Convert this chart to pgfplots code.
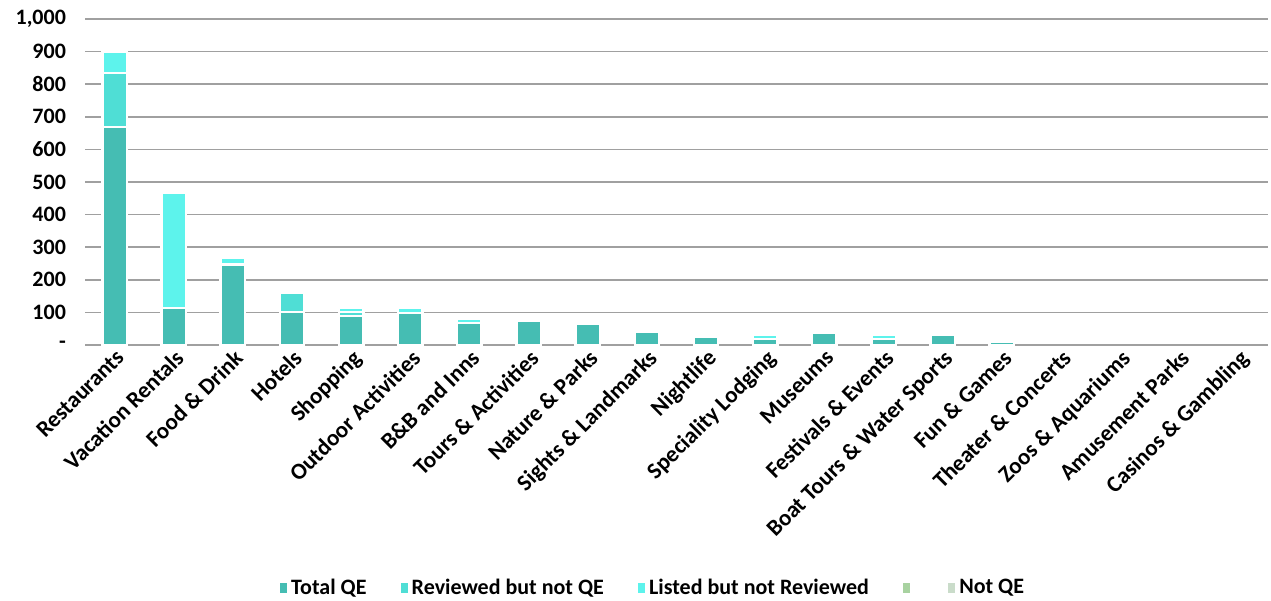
\documentclass[border=0pt]{standalone}
\usepackage{fontspec}
\setmainfont{Carlito}
\usepackage{pgfplots}
\pgfplotsset{compat=1.18}

\definecolor{cTotal}{HTML}{45BDB3}
\definecolor{cRev}{HTML}{4FDED5}
\definecolor{cList}{HTML}{5DF3EC}
\definecolor{cGreen}{HTML}{A8D2A0}
\definecolor{cNot}{HTML}{CADCCA}
\definecolor{cGrid}{HTML}{A0A0A0}

\newcommand{\lblfont}{\bfseries\fontsize{11}{13}\selectfont}
\newcommand{\xlblfont}{\bfseries\fontsize{11.5}{13}\selectfont}

\begin{document}
\begin{tikzpicture}
\begin{axis}[
    scale only axis,
    width=591.5pt, height=163pt,
    ybar stacked,
    bar width=12.2pt,
    xmin=-0.5, xmax=19.5,
    ymin=0, ymax=1000,
    xtick={0,...,19},
    xticklabels={Restaurants, Vacation Rentals, Food \& Drink, Hotels, Shopping,
        Outdoor Activities, B\&B and Inns, Tours \& Activities, Nature \& Parks,
        Sights \& Landmarks, Nightlife, Speciality Lodging, Museums,
        Festivals \& Events, Boat Tours \& Water Sports, Fun \& Games,
        Theater \& Concerts, Zoos \& Aquariums, Amusement Parks, Casinos \& Gambling},
    ytick={0,100,...,1000},
    yticklabels={-,100,200,300,400,500,600,700,800,900,{1,000}},
    xticklabel style={rotate=45, anchor=north east, font=\xlblfont, inner sep=1pt},
    yticklabel style={font=\lblfont, xshift=-6pt},
    major tick length=0pt,
    axis line style={draw=none},
    ymajorgrids,
    grid style={cGrid, line width=0.85pt},
    legend columns=5,
    legend style={draw=none, at={(0.481,-0.745)}, anchor=center, font=\lblfont,
        /tikz/every even column/.append style={column sep=15pt}},
    legend image code/.code={\fill[#1, draw=none] (0pt,-2.6pt) rectangle (3.6pt,2.6pt);},
    every axis plot/.append style={draw=white, line width=1.2pt},
]
\addplot[fill=cTotal] coordinates {(0,668) (1,113) (2,247) (3,101) (4,89) (5,99) (6,68) (7,73) (8,66) (9,40)
    (10,26) (11,19) (12,37) (13,19) (14,31) (15,11) (16,0) (17,0) (18,0) (19,0)};
\addplot[fill=cRev] coordinates {(0,166) (1,0) (2,0) (3,59) (4,12) (5,0) (6,0) (7,0) (8,0) (9,0)
    (10,0) (11,0) (12,0) (13,0) (14,0) (15,0) (16,0) (17,0) (18,0) (19,0)};
\addplot[fill=cList] coordinates {(0,64) (1,354) (2,19) (3,0) (4,12) (5,14) (6,13) (7,0) (8,0) (9,0)
    (10,0) (11,12) (12,0) (13,12) (14,0) (15,0) (16,0) (17,0) (18,0) (19,0)};
\addlegendentry{Total QE}
\addlegendentry{Reviewed but not QE}
\addlegendentry{Listed but not Reviewed}
\addlegendimage{fill=cGreen}
\addlegendentry{\hspace{6pt}}
\addlegendimage{fill=cNot}
\addlegendentry{Not QE}
\draw[cGrid, line width=0.85pt] (axis cs:-0.5,0) -- (axis cs:19.5,0);
\end{axis}
\pgfresetboundingbox
\path[use as bounding box] ([shift={(-42.5pt,-127.5pt)}]current axis.south west)
    rectangle ([shift={(1.5pt,9.5pt)}]current axis.north east);
\end{tikzpicture}
\end{document}
